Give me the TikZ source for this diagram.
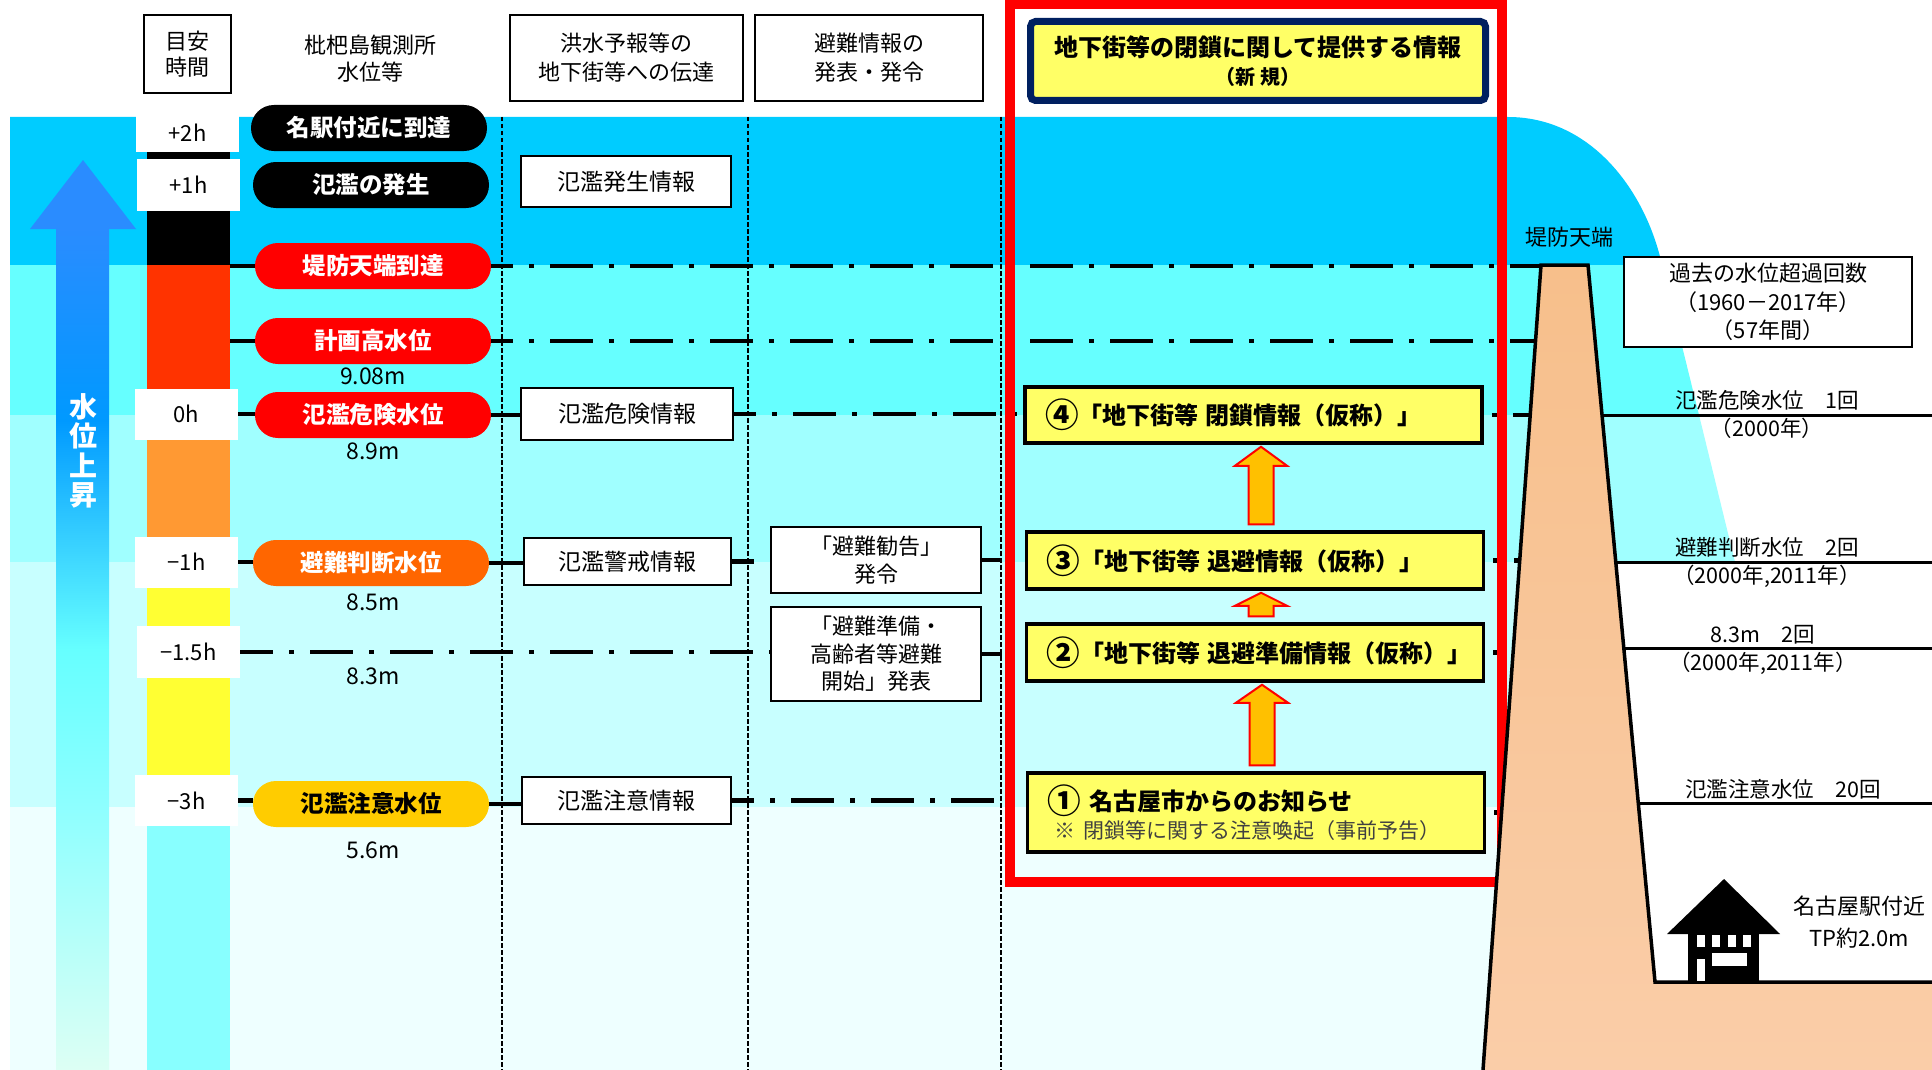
\documentclass[tikz,border=0pt]{standalone}
\usepackage{fontspec}
\usepackage{graphicx}
\setmainfont{Noto Sans CJK JP}
\usetikzlibrary{calc}

\definecolor{bandA}{HTML}{00CCFF}
\definecolor{bandB}{HTML}{66FFFF}
\definecolor{bandC}{HTML}{A0FFFF}
\definecolor{bandD}{HTML}{C8FFFF}
\definecolor{bandE}{HTML}{EEFFFF}
\definecolor{barRed}{HTML}{FF3300}
\definecolor{barOrange}{HTML}{FF9933}
\definecolor{barYellow}{HTML}{FFFF33}
\definecolor{barCyan}{HTML}{88FFFF}
\definecolor{pillRed}{HTML}{FF0000}
\definecolor{pillOrange}{HTML}{FF6600}
\definecolor{pillGold}{HTML}{FFCC00}
\definecolor{noteYellow}{HTML}{FFFF66}
\definecolor{titleNavy}{HTML}{002060}
\definecolor{arrowGold}{HTML}{FFC000}
\definecolor{leveeTop}{HTML}{F7BF8B}
\definecolor{leveeBot}{HTML}{FACDA8}
\definecolor{riseTop}{HTML}{2A8CFF}
\definecolor{riseA}{HTML}{0099FF}
\definecolor{riseB}{HTML}{33CCFF}
\definecolor{riseC}{HTML}{66FFFF}
\definecolor{riseD}{HTML}{8CFFFF}
\definecolor{riseE}{HTML}{DDFFF4}
\definecolor{noteGray}{HTML}{404040}

% colour ramp of the rising-water arrow shaft
\pgfdeclareverticalshading{riseshade}{100bp}{%
  color(0bp)=(riseE); color(25bp)=(riseE); color(41bp)=(riseD);
  color(50bp)=(riseC); color(57bp)=(riseB); color(63.6bp)=(riseA);
  color(75bp)=(riseTop); color(100bp)=(riseTop)}

% enlarged circled step number
\newcommand\stepnum[1]{\raisebox{-0.13em}{\scalebox{1.4}{#1}}}

% block arrow between two stacked notes: x shift, lower node, upper node, head length
\newcommand\blkarrow[4]{%
  \draw[blockarrow] let \p1=($(#2.north)+(#1,0)$), \p2=($(#3.south)+(#1,0)$) in
    (\x1-12.5pt,\y1+6pt) -- (\x1-12.5pt,\y2-2pt-#4) -- (\x1-26pt,\y2-2pt-#4)
    -- (\x1,\y2-2pt) -- (\x1+26pt,\y2-2pt-#4) -- (\x1+12.5pt,\y2-2pt-#4)
    -- (\x1+12.5pt,\y1+6pt) -- cycle;}

\tikzset{
  hdrbox/.style={draw, line width=2.2pt, fill=white, align=center, inner sep=0pt,
    font=\fontsize{22}{29}\selectfont},
  timebox/.style={fill=white, inner sep=0pt, minimum width=103pt,
    font=\fontsize{22}{26}\selectfont},
  pill/.style={rounded corners=22.9pt, minimum width=236pt, minimum height=46pt,
    inner sep=0pt, text=white, font=\fontsize{23.5}{27}\selectfont\bfseries},
  infobox/.style={draw, line width=2.2pt, fill=white, inner sep=0pt, align=center,
    font=\fontsize{23}{27}\selectfont},
  evacbox/.style={infobox, font=\fontsize{22}{27.5}\selectfont},
  stepnote/.style={draw, line width=3.5pt, fill=noteYellow, inner xsep=20pt,
    inner ysep=0pt, minimum width=457pt, text width=417pt, align=left,
    font=\fontsize{24}{28}\selectfont\bfseries},
  meter/.style={inner sep=0pt, font=\fontsize{23}{27}\selectfont},
  note/.style={inner sep=0pt, align=center, font=\fontsize{21.5}{28}\selectfont},
  lvl/.style={line width=4.5pt},
  lvldash/.style={lvl, dash pattern=on 43pt off 16pt on 5pt off 16pt, dash phase=21pt},
  lvlstub/.style={lvl, dash pattern=on 20pt off 200pt},
  colsep/.style={line width=1.4pt, dash pattern=on 4.5pt off 2.5pt},
  annot/.style={line width=3pt},
  blockarrow/.style={fill=arrowGold, draw=red, line width=2pt, line join=miter},
}

\begin{document}
\begin{tikzpicture}[x=1pt,y=-1pt]
\useasboundingbox (0,0) rectangle (1932,1070);
\fill[white] (0,0) rectangle (1932,1070);

% water level bands (river side rises into a dome above the levee)
\fill[bandA] (10,117) -- (1508,117) .. controls (1592,117) and (1646,192) .. (1662,265)
  -- (10,265) -- cycle;
\fill[bandB] (10,265) -- (1662,265) -- (1699,415) -- (10,415) -- cycle;
\fill[bandC] (10,415) -- (1699,415) -- (1735,562) -- (10,562) -- cycle;
\fill[bandD] (10,562) rectangle (1560,807);
\fill[bandE] (10,807) rectangle (1560,1070);

% column separators
\foreach \x in {502,748,1001} \draw[colsep] (\x,117) -- (\x,1070);

% time scale colour bar
\fill[black] (147,150) rectangle (230,265);
\fill[barRed] (147,265) rectangle (230,400);
\fill[barOrange] (147,400) rectangle (230,560);
\fill[barYellow] (147,560) rectangle (230,800);
\fill[barCyan] (147,800) rectangle (230,1070);

% rising water arrow
\fill[riseTop] (30,229) -- (83,160) -- (136,229) -- cycle;
\shade[shading=riseshade] (56,228.5) rectangle (109,1070);
\node[inner sep=0pt, align=center, text=white,
  font=\fontsize{28}{29.5}\selectfont\bfseries] (rise) at (83,451) {水\\位\\上\\昇};

% column headings
\node[hdrbox, minimum width=87pt, minimum height=78pt,
  font=\fontsize{22}{26}\selectfont] (hTime) at (187.5,54) {目安\\時間};
\node[inner sep=0pt, align=center, font=\fontsize{22}{27}\selectfont] (hGauge)
  at (370,58.5) {枇杷島観測所\\水位等};
\node[hdrbox, minimum width=233pt, minimum height=86pt] (hRelay) at (626.5,58)
  {洪水予報等の\\地下街等への伝達};
\node[hdrbox, minimum width=228pt, minimum height=86pt] (hEvac) at (869,58)
  {避難情報の\\発表・発令};
\node[draw=titleNavy, line width=7pt, fill=noteYellow, rounded corners=5pt,
  minimum width=455pt, minimum height=79pt, inner sep=0pt, align=center,
  font=\fontsize{24}{28}\selectfont\bfseries] (title) at (1258,61)
  {地下街等の閉鎖に関して提供する情報\\{\fontsize{20}{28}\selectfont（新 規）}};

% lead times
\node[timebox, minimum height=39pt] (tP2) at (187.5,132.5) {+2h};
\node[timebox, minimum height=52pt] (tP1) at (188.5,185) {+1h};
\node[timebox, minimum height=51pt] (t0) at (186.5,414) {0h};
\node[timebox, minimum height=51pt] (tM1) at (186.5,562) {−1h};
\node[timebox, minimum height=52pt] (tM15) at (188.5,652) {−1.5h};
\node[timebox, minimum height=51pt] (tM3) at (186.5,800.5) {−3h};

% gauge levels
\node[pill, fill=black] (lvArrive) at (369,128) {名駅付近に到達};
\node[pill, fill=black] (lvFlood) at (371,185) {氾濫の発生};
\node[pill, fill=pillRed] (lvCrest) at (373,266) {堤防天端到達};
\node[pill, fill=pillRed] (lvPlan) at (373,341) {計画高水位};
\node[pill, fill=pillRed] (lvDanger) at (373,415) {氾濫危険水位};
\node[pill, fill=pillOrange] (lvJudge) at (371,563) {避難判断水位};
\node[pill, fill=pillGold, text=black] (lvCaution) at (371,804) {氾濫注意水位};

\node[meter] (m908) at (373,376) {9.08m};
\node[meter] (m89) at (373,451) {8.9m};
\node[meter] (m85) at (373,602) {8.5m};
\node[meter] (m83) at (373,676) {8.3m};
\node[meter] (m56) at (373,850) {5.6m};

% flood forecasts relayed to underground malls
\node[infobox, minimum width=210pt, minimum height=51pt] (iFlood) at (626,181.5) {氾濫発生情報};
\node[infobox, minimum width=212pt, minimum height=52pt] (iDanger) at (627,414) {氾濫危険情報};
\node[infobox, minimum width=207pt, minimum height=47pt] (iWarn) at (627.5,561.5) {氾濫警戒情報};
\node[infobox, minimum width=209pt, minimum height=47pt] (iCaution) at (626.5,800.5) {氾濫注意情報};

% evacuation orders
\node[evacbox, minimum width=210pt, minimum height=66pt] (eAdvice) at (876,560)
  {「避難勧告」\\発令};
\node[evacbox, minimum width=210pt, minimum height=94pt] (ePrep) at (876,654)
  {「避難準備・\\高齢者等避難\\開始」発表};

% closure information for underground malls
\node[stepnote, minimum height=56pt] (s4) at (1253.5,415)
  {\mbox{\stepnum{④}「地下街等\hspace{.3em}閉鎖情報（仮称）」}};
\node[stepnote, minimum height=57pt] (s3) at (1255,560.5)
  {\mbox{\stepnum{③}「地下街等\hspace{.3em}退避情報（仮称）」}};
\node[stepnote, minimum height=57pt] (s2) at (1255,652.5)
  {\mbox{\stepnum{②}「地下街等\hspace{.3em}退避準備情報（仮称）」}};
\node[stepnote, minimum height=79pt] (s1) at (1256,812.5)
  {\stepnum{①} 名古屋市からのお知らせ\\{\mdseries\fontsize{21}{27}\selectfont\color{noteGray}\hspace{7pt}※ 閉鎖等に関する注意喚起（事前予告）}};

\blkarrow{6pt}{s1}{s2}{18pt}
\blkarrow{6pt}{s2}{s3}{13pt}
\blkarrow{6pt}{s3}{s4}{19pt}

% levee reference points
\coordinate (barCrest) at (230,266);
\coordinate (barPlan) at (230,341);
\coordinate (crestTL) at (1541,265);
\coordinate (crestTR) at (1588,265);
\coordinate (toeL) at (1483,1070);
\coordinate (toeR) at (1655,982);
\coordinate (groundEnd) at (1932,982);
\coordinate (levPlan) at (1535.5,341);
\coordinate (levDanger) at (1530.2,415);
\coordinate (levJudge) at (1519.6,562);
\coordinate (levPrep) at (1513.1,652);
\coordinate (levCaution) at (1502.5,800);

% level lines
\draw[lvl] (barCrest) -- (lvCrest.west);
\draw[lvldash] (lvCrest.east) -- (lvCrest.east -| crestTL);

\draw[lvl] (barPlan) -- (lvPlan.west);
\draw[lvldash] (lvPlan.east) -- (lvPlan.east -| levPlan);

\draw[lvl] (t0.east) -- (t0.east -| lvDanger.west);
\draw[lvl] (lvDanger.east) -- (lvDanger.east -| iDanger.west);
\draw[lvldash] (iDanger.east) -- (iDanger.east -| s4.west);
\draw[lvldash, dash phase=51pt] (s4.east) -- (s4.east -| levDanger);

\draw[lvl] (tM1.east) -- (tM1.east -| lvJudge.west);
\draw[lvl] (lvJudge.east) -- (lvJudge.east -| iWarn.west);
\draw[lvldash] (iWarn.east) -- (iWarn.east -| eAdvice.west);
\draw[lvlstub] (eAdvice.east) -- (eAdvice.east -| s3.west);
\draw[lvldash, dash phase=51pt] (s3.east) -- (s3.east -| levJudge);

\draw[lvldash, dash phase=10pt] (tM15.east) -- (tM15.east -| ePrep.west);
\draw[lvlstub] (ePrep.east) -- (ePrep.east -| s2.west);
\draw[lvldash, dash phase=51pt] (s2.east) -- (s2.east -| levPrep);

\draw[lvl] (tM3.east) -- (tM3.east -| lvCaution.west);
\draw[lvl] (lvCaution.east) -- (lvCaution.east -| iCaution.west);
\draw[lvldash] (iCaution.east) -- (iCaution.east -| s1.west);
\draw[lvldash, dash phase=51pt] (s1.east) -- (s1.east -| levCaution);

% frame of the new information
\draw[red, line width=10pt] (1010,4) rectangle (1502,882);

% levee cross-section and land side ground
\shade[top color=leveeTop, bottom color=leveeBot] (toeL) -- (crestTL) -- (crestTR)
  -- (toeR) -- (groundEnd) -- (1932,1070) -- cycle;
\draw[line width=3.5pt, line join=miter] (toeL) -- (crestTL) -- (crestTR) -- (toeR) -- (groundEnd);
\node[inner sep=0pt, font=\fontsize{22}{26}\selectfont] (crestLbl) at (1569,237) {堤防天端};

% exceedance record
\node[infobox, line width=2.5pt, minimum width=288pt, minimum height=90pt,
  font=\fontsize{22}{28.5}\selectfont] (hist) at (1768,302)
  {過去の水位超過回数\\（1960－2017年）\\（57年間）};

\coordinate (rDanger0) at (1602,415);   \coordinate (rDanger1) at (1932,415);
\coordinate (rJudge0) at (1615.8,562);  \coordinate (rJudge1) at (1932,562);
\coordinate (rPrep0) at (1623.8,648);   \coordinate (rPrep1) at (1932,648);
\coordinate (rCaution0) at (1638.3,803); \coordinate (rCaution1) at (1932,803);
\draw[annot] (rDanger0) -- (rDanger1);
\draw[annot] (rJudge0) -- (rJudge1);
\draw[annot] (rPrep0) -- (rPrep1);
\draw[annot] (rCaution0) -- (rCaution1);

\node[note] (nDanger) at (1767,400) {氾濫危険水位\hspace{1em}1回};
\node[note] (nDangerY) at (1767,428) {（2000年）};
\node[note] (nJudge) at (1767,547) {避難判断水位\hspace{1em}2回};
\node[note] (nJudgeY) at (1767,576.5) {（2000年,2011年）};
\node[note] (nPrep) at (1763,634.5) {8.3m\hspace{1em}2回};
\node[note] (nPrepY) at (1763,663.5) {（2000年,2011年）};
\node[note] (nCaution) at (1783,789) {氾濫注意水位\hspace{1em}20回};

% station building near Nagoya
\fill[black] (1667,934) -- (1724,879) -- (1780,934) -- cycle;
\fill[black] (1688,933) rectangle (1759,982);
\fill[white] (1697,935) rectangle (1705,947);
\fill[white] (1712,935) rectangle (1720,947);
\fill[white] (1728,935) rectangle (1736,947);
\fill[white] (1743,935) rectangle (1751,947);
\fill[white] (1712,953) rectangle (1747,966);
\fill[white] (1697,959) rectangle (1705,980.5);
\node[note, font=\fontsize{22}{32}\selectfont] (station) at (1859,922) {名古屋駅付近\\TP約2.0m};
\end{tikzpicture}
\end{document}
